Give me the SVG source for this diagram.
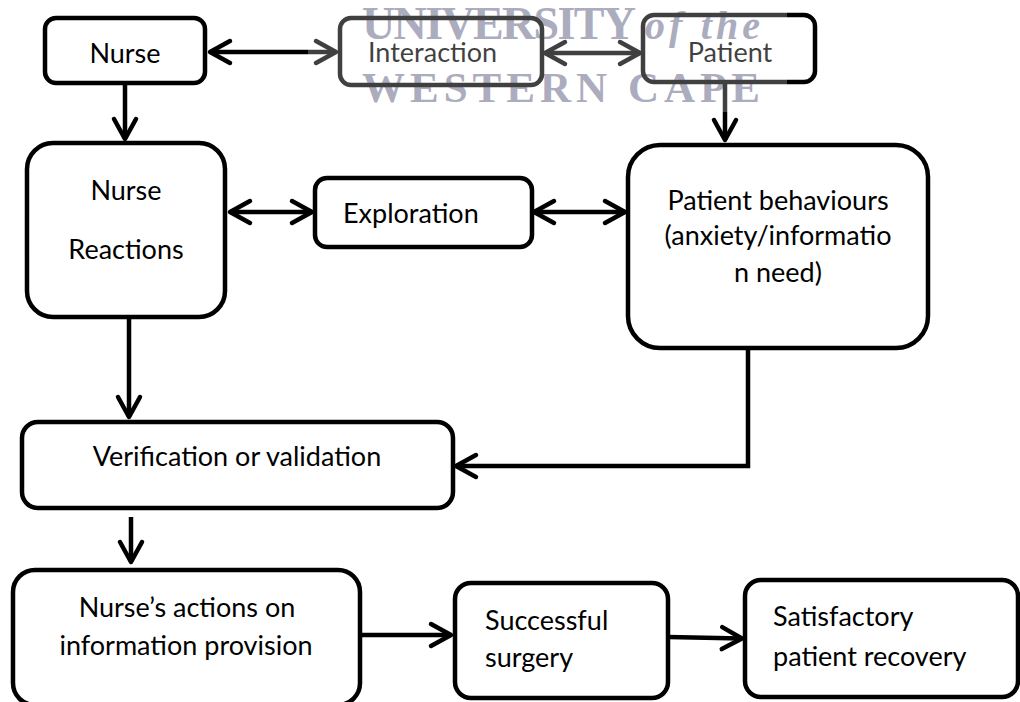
<svg xmlns="http://www.w3.org/2000/svg" width="1020" height="702" viewBox="0 0 1020 702">
<style>
.box{fill:#fff;stroke:#000;stroke-width:4.5}
.boxn{fill:none;stroke:#000;stroke-width:4.5}
.t{font-family:Lato,"Liberation Sans",sans-serif;font-size:27px;fill:#000}
.c{text-anchor:middle}
.ln{fill:none;stroke:#000;stroke-width:4.5}
.wm{font-family:"Liberation Serif",serif;fill:#9090aa;font-weight:bold}
</style>
<defs>
<marker id="ch" markerUnits="userSpaceOnUse" markerWidth="40" markerHeight="40" viewBox="-30 -20 40 40" refX="0" refY="0" orient="auto-start-reverse" overflow="visible">
<path d="M-20,-11 L0,0 L-20,11" fill="none" stroke="#000" stroke-width="4.5" stroke-linecap="round" stroke-linejoin="round"/>
</marker>
</defs>
<g id="watermark">
<text class="wm" x="362" y="39" font-size="46" textLength="274" lengthAdjust="spacing">UNIVERSITY</text>
<text class="wm" x="645" y="39" font-size="40" font-style="italic" font-weight="normal" textLength="115" lengthAdjust="spacing">of the</text>
<text class="wm" x="362" y="102" font-size="43" textLength="398" lengthAdjust="spacing">WESTERN CAPE</text>
</g>
<g id="connectors">
<line class="ln" x1="210" y1="52" x2="336" y2="52" marker-start="url(#ch)" marker-end="url(#ch)"/>
<line class="ln" x1="545" y1="53" x2="640" y2="53" marker-start="url(#ch)" marker-end="url(#ch)"/>
<line class="ln" x1="725" y1="82" x2="725" y2="140" marker-end="url(#ch)"/>
<line class="ln" x1="125" y1="83" x2="125" y2="139" marker-end="url(#ch)"/>
<line class="ln" x1="230" y1="212" x2="312" y2="212" marker-start="url(#ch)" marker-end="url(#ch)"/>
<line class="ln" x1="534" y1="212" x2="625" y2="212" marker-start="url(#ch)" marker-end="url(#ch)"/>
<line class="ln" x1="129" y1="317" x2="129" y2="417" marker-end="url(#ch)"/>
<polyline class="ln" points="748,348 748,466 456,466" marker-end="url(#ch)"/>
<line class="ln" x1="131" y1="517" x2="131" y2="562" marker-end="url(#ch)"/>
<line class="ln" x1="362" y1="635" x2="451" y2="635" marker-end="url(#ch)"/>
<line class="ln" x1="668" y1="637" x2="742" y2="638.5" marker-end="url(#ch)"/>
</g>
<g id="nurse"><rect class="box" x="45" y="18" width="160" height="65" rx="11"/><text class="t c" x="125" y="63">Nurse</text></g>
<g id="interaction"><rect class="boxn" x="340" y="18" width="202" height="67" rx="11"/><text class="t" x="368" y="62">Interaction</text></g>
<g id="patient"><rect class="boxn" x="643" y="15" width="172" height="67" rx="11"/><text class="t c" x="730" y="62">Patient</text></g>
<g id="nurse-reactions"><rect class="box" x="27" y="143" width="198" height="174" rx="26"/><text class="t c" x="126" y="200">Nurse</text><text class="t c" x="126" y="259">Reactions</text></g>
<g id="exploration"><rect class="box" x="315" y="178" width="217" height="69" rx="12"/><text class="t" x="343" y="223">Exploration</text></g>
<g id="patient-behaviours"><rect class="box" x="628" y="145" width="300" height="203" rx="32"/><text class="t c" x="778" y="210">Patient behaviours</text><text class="t c" x="778" y="245">(anxiety/informatio</text><text class="t c" x="778" y="282">n need)</text></g>
<g id="verification"><rect class="box" x="22" y="422" width="431" height="86" rx="16"/><text class="t c" x="237" y="466">Verification or validation</text></g>
<g id="nurse-actions"><rect class="box" x="13" y="570" width="347" height="135" rx="22"/><text class="t c" x="187" y="617">Nurse’s actions on</text><text class="t c" x="186" y="655">information provision</text></g>
<g id="successful-surgery"><rect class="box" x="455" y="583" width="213" height="115" rx="16"/><text class="t" x="485" y="630">Successful</text><text class="t" x="485" y="667">surgery</text></g>
<g id="satisfactory-recovery"><rect class="box" x="745" y="580" width="273" height="117" rx="16"/><text class="t" x="773" y="626">Satisfactory</text><text class="t" x="773" y="666">patient recovery</text></g>
<rect id="watermark-veil" x="308" y="0" width="479" height="112" fill="#fff" opacity="0.25"/>
</svg>
